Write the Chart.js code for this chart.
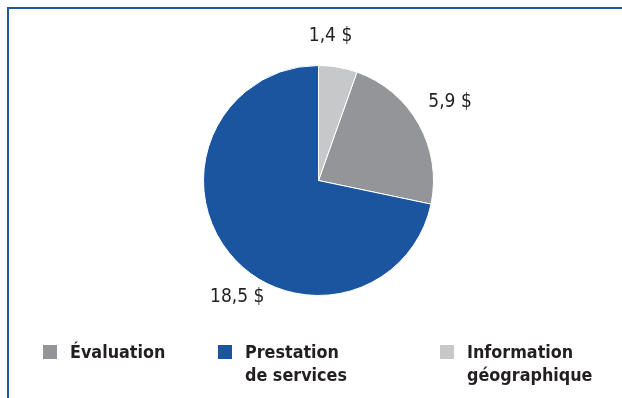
<!DOCTYPE html>
<html lang="fr">
<head>
<meta charset="utf-8">
<script src="https://cdn.jsdelivr.net/npm/chart.js@4.4.1/dist/chart.umd.min.js"></script>
<style>
    html, body {
        margin: 0;
        padding: 0;
        background: #fff;
    }
    .frame {
        position: absolute;
        left: 7px;
        top: 7px;
        width: 640px;
        height: 420px;
        border-top: 2px solid #1e57a3;
        border-left: 2px solid #1e57a3;
    }
    .chart-box {
        position: absolute;
        left: 0;
        top: 0;
        width: 622px;
        height: 398px;
    }
    #legend {
        position: absolute;
        left: 43px;
        top: 340px;
        display: flex;
        font-family: "DejaVu Sans Condensed", "DejaVu Sans", sans-serif;
        font-weight: bold;
        font-size: 17.8px;
        line-height: 23px;
        color: #231f20;
    }
    #legend .item {
        display: flex;
        align-items: flex-start;
    }
    #legend .swatch {
        width: 14px;
        height: 14px;
        margin-top: 5px;
        margin-right: 13px;
        flex: none;
    }
</style>
</head>
<body>
<div class="frame"></div>
<div class="chart-box"><canvas id="pieChart" width="622" height="398"></canvas></div>
<div id="legend"></div>

<script>
// Dépenses par secteur (en millions de $)
const categories = ['Évaluation', ['Prestation', 'de services'], ['Information', 'géographique']];
const values = [5.9, 18.5, 1.4];
const valueLabels = ['5,9 $', '18,5 $', '1,4 $'];
const colors = ['#939598', '#1b559f', '#c7c8ca'];

// largeur des colonnes de la légende
const legendWidths = [175, 222, 160];

const total = values.reduce((a, b) => a + b, 0);
// la dernière part (Information) commence à midi
const startRotation = values[values.length - 1] / total * 360;

// étiquettes de valeur autour du camembert
const valueLabelPlugin = {
    id: 'valueLabels',
    afterDatasetsDraw(chart, args, opts) {
        const ctx = chart.ctx;
        const meta = chart.getDatasetMeta(0);
        ctx.save();
        ctx.font = opts.font;
        ctx.fillStyle = opts.color;
        ctx.textAlign = 'center';
        ctx.textBaseline = 'middle';
        meta.data.forEach((arc, i) => {
            const p = arc.getProps(['x', 'y', 'startAngle', 'endAngle', 'outerRadius'], true);
            const mid = (p.startAngle + p.endAngle) / 2 + (opts.angleShift[i] || 0) * Math.PI / 180;
            const dist = p.outerRadius + (opts.distance[i] || 30);
            ctx.fillText(valueLabels[i], p.x + Math.cos(mid) * dist, p.y + Math.sin(mid) * dist);
        });
        ctx.restore();
    }
};

const chart = new Chart(document.getElementById('pieChart'), {
    type: 'pie',
    data: {
        labels: categories,
        datasets: [{
            data: values,
            backgroundColor: colors,
            borderColor: '#ffffff',
            borderWidth: 1,
            hoverOffset: 0
        }]
    },
    options: {
        responsive: false,
        animation: false,
        events: [],
        rotation: startRotation,
        layout: {
            padding: { left: 203, right: 188, top: 65, bottom: 102 }
        },
        plugins: {
            legend: { display: false },
            tooltip: { enabled: false },
            valueLabels: {
                font: '19px "DejaVu Sans Condensed", "DejaVu Sans", sans-serif',
                color: '#231f20',
                angleShift: [-1.4, -16, -5],
                distance: [38, 27, 30]
            }
        }
    },
    plugins: [valueLabelPlugin]
});

// Légende HTML construite à partir des données du graphique
const legendElem = document.getElementById('legend');
const items = Chart.overrides.pie.plugins.legend.labels.generateLabels(chart);
legendElem.innerHTML = items.map((item, i) => {
    const lines = Array.isArray(categories[i]) ? categories[i] : [categories[i]];
    return `
        <div class="item" style="width: ${legendWidths[i]}px;">
            <span class="swatch" style="background: ${item.fillStyle};"></span>
            <span>${lines.join('<br>')}</span>
        </div>`;
}).join('');
</script>
</body>
</html>
